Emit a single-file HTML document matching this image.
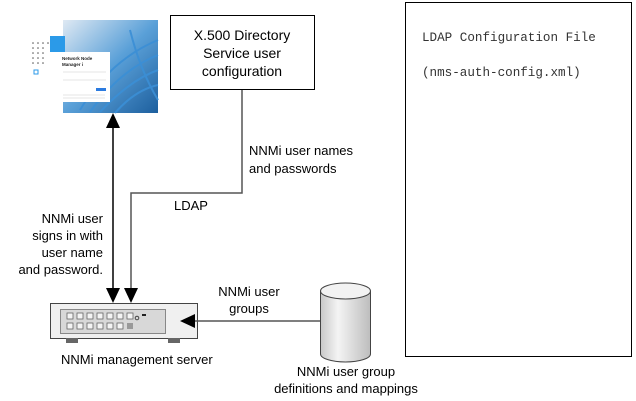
<!DOCTYPE html>
<html><head><meta charset="utf-8"><style>
body{margin:0;background:#fff;}
svg{display:block;font-family:"Liberation Sans",Arial,sans-serif;}
</style></head><body>
<svg width="636" height="401" viewBox="0 0 636 401" xmlns="http://www.w3.org/2000/svg">
<defs>
<linearGradient id="cyl" x1="0" x2="1" y1="0" y2="0">
<stop offset="0" stop-color="#c8c8c8"/><stop offset="0.35" stop-color="#f4f4f4"/><stop offset="1" stop-color="#bdbdbd"/>
</linearGradient>
<linearGradient id="photo" x1="0" y1="0" x2="1" y2="1">
<stop offset="0" stop-color="#dfe9f3"/><stop offset="0.5" stop-color="#5aa0d8"/><stop offset="1" stop-color="#1d5f9e"/>
</linearGradient>
</defs>
<rect x="63" y="20" width="95" height="93" fill="url(#photo)"/>
<g stroke="#3b8fd6" stroke-width="2" fill="none" opacity="0.9">
<path d="M80 110 Q110 60 158 40"/><path d="M90 112 Q120 70 158 55"/><path d="M100 112 Q130 80 158 70"/><path d="M115 113 Q135 90 158 85"/><path d="M130 30 Q140 70 158 100"/>
</g>
<rect x="50" y="36" width="15" height="16" fill="#2b9ae8"/>
<g fill="#555"><circle cx="33" cy="43" r="0.8"/><circle cx="38" cy="43" r="0.8"/><circle cx="43" cy="43" r="0.8"/><circle cx="48" cy="43" r="0.8"/><circle cx="33" cy="48" r="0.8"/><circle cx="38" cy="48" r="0.8"/><circle cx="43" cy="48" r="0.8"/><circle cx="33" cy="53" r="0.8"/><circle cx="38" cy="53" r="0.8"/><circle cx="43" cy="53" r="0.8"/><circle cx="33" cy="58" r="0.8"/><circle cx="38" cy="58" r="0.8"/><circle cx="43" cy="58" r="0.8"/><circle cx="33" cy="63" r="0.8"/><circle cx="38" cy="63" r="0.8"/><circle cx="43" cy="63" r="0.8"/></g>
<rect x="34" y="70" width="4" height="4" fill="none" stroke="#2b9ae8"/>
<rect x="60" y="52" width="50" height="50" fill="#fff"/>
<text x="62" y="60" font-size="4.5" font-weight="bold" fill="#222">Network Node</text>
<text x="62" y="66" font-size="4.5" font-weight="bold" fill="#222">Manager i</text>
<line x1="63" y1="72" x2="106" y2="72" stroke="#ccc" stroke-width="0.6"/>
<line x1="63" y1="80" x2="106" y2="80" stroke="#ccc" stroke-width="0.6"/>
<rect x="96" y="88" width="10" height="3" fill="#2b7be0"/>
<line x1="63" y1="95" x2="105" y2="95" stroke="#ccc" stroke-width="0.5"/>
<line x1="63" y1="98" x2="105" y2="98" stroke="#ccc" stroke-width="0.5"/>

<rect x="170.5" y="15.5" width="144" height="74" fill="#fff" stroke="#000"/>
<text font-size="14" text-anchor="middle" fill="#000"><tspan x="242" y="40">X.500 Directory</tspan><tspan x="242" y="58">Service user</tspan><tspan x="242" y="76">configuration</tspan></text>

<rect x="405.5" y="2.5" width="226" height="354" fill="#fff" stroke="#000"/>
<text font-family="Liberation Mono,monospace" font-size="12.6" fill="#333"><tspan x="422" y="41">LDAP Configuration File</tspan><tspan x="422" y="76">(nms-auth-config.xml)</tspan></text>

<polyline points="242,90 242,193 131,193 131,290" fill="none" stroke="#555" stroke-width="1.5"/>
<polygon points="124,288 138,288 131,303" fill="#000"/>
<line x1="113" y1="125" x2="113" y2="290" stroke="#000" stroke-width="1.5"/>
<polygon points="106,128 120,128 113,113" fill="#000"/>
<polygon points="106,288 120,288 113,303" fill="#000"/>

<text font-size="13" fill="#000"><tspan x="249" y="155">NNMi user names</tspan><tspan x="249" y="173">and passwords</tspan></text>
<text x="174" y="210" font-size="13">LDAP</text>
<text font-size="13" text-anchor="end"><tspan x="103" y="223">NNMi user</tspan><tspan x="103" y="240">signs in with</tspan><tspan x="103" y="257">user name</tspan><tspan x="103" y="274">and password.</tspan></text>

<rect x="50.5" y="303.5" width="147" height="35" fill="#f0f0f0" stroke="#444"/>
<rect x="60.5" y="309.5" width="105" height="24" fill="#d8d8d8" stroke="#888"/>
<g fill="#f4f4f4" stroke="#666" stroke-width="0.8">
<rect x="67" y="313" width="6" height="6"/><rect x="77" y="313" width="6" height="6"/><rect x="87" y="313" width="6" height="6"/><rect x="97" y="313" width="6" height="6"/><rect x="107" y="313" width="6" height="6"/><rect x="117" y="313" width="6" height="6"/><rect x="127" y="313" width="6" height="6"/>
<rect x="67" y="323" width="6" height="6"/><rect x="77" y="323" width="6" height="6"/><rect x="87" y="323" width="6" height="6"/><rect x="97" y="323" width="6" height="6"/><rect x="107" y="323" width="6" height="6"/><rect x="117" y="323" width="6" height="6"/>
</g>
<rect x="127" y="323" width="6" height="6" fill="#999"/>
<circle cx="137" cy="318" r="1.8" fill="none" stroke="#444"/>
<rect x="142" y="314" width="4" height="2" fill="#222"/>
<rect x="66" y="338" width="12" height="5" fill="#666"/>
<rect x="168" y="338" width="12" height="5" fill="#666"/>
<text x="61" y="364" font-size="13">NNMi management server</text>

<line x1="192" y1="321" x2="320" y2="321" stroke="#555" stroke-width="1.5"/>
<polygon points="195,314 195,328 180,321" fill="#000"/>
<text font-size="13" text-anchor="middle"><tspan x="249" y="296">NNMi user</tspan><tspan x="249" y="313">groups</tspan></text>

<path d="M320.5 291 L320.5 354 A25 8 0 0 0 370.5 354 L370.5 291" fill="url(#cyl)" stroke="#444"/>
<ellipse cx="345.5" cy="291" rx="25" ry="8" fill="#f2f2f2" stroke="#444"/>
<text font-size="13" text-anchor="middle"><tspan x="346" y="376">NNMi user group</tspan><tspan x="346" y="393">definitions and mappings</tspan></text>
</svg>
</body></html>
